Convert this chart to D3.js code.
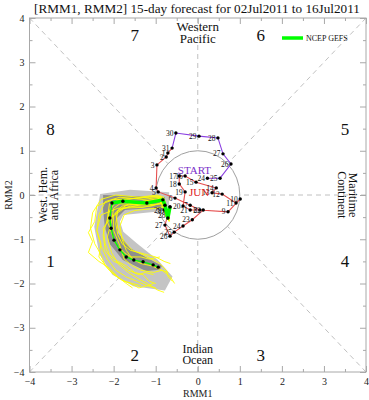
<!DOCTYPE html>
<html><head><meta charset="utf-8">
<script src="https://cdn.jsdelivr.net/npm/d3@7"></script>
<style>body{margin:0;background:#fff}svg{display:block;font-family:"Liberation Serif","Times New Roman",serif}</style>
</head><body><svg id="c" width="369" height="400"></svg>
<script>
// ---------------- DATA ----------------
const title = "[RMM1, RMM2] 15-day forecast for 02Jul2011 to 16Jul2011";
const majorTicks = [-4,-3,-2,-1,0,1,2,3,4];
const minorTicks = [-3.5,-2.5,-1.5,-0.5,0.5,1.5,2.5,3.5];
const phaseNames = ["1","2","3","4","5","6","7","8"];

// observed: late May (purple) and June (red), then 1 Jul
const mayDays = [24,25,26,27,28,29,30,31];
const mayRMM1 = [0.23,0.53,0.79,0.60,0.48,0.03,-0.52,-0.61];
const mayRMM2 = [0.38,0.38,0.70,0.93,1.29,1.33,1.40,1.06];
const junDays = [1,2,3,4,5,6,7,8,9,10,11,12,13,14,15,16,17,18,19,20,21,22,23,24,25,26,27,28,29,30];
const junRMM1 = [-0.71,-0.75,-0.97,-0.99,-0.94,-0.54,-0.18,0.05,0.72,1.01,0.91,0.58,0.34,0.44,-0.04,-0.30,-0.44,-0.44,-0.30,-0.35,-0.18,0.13,-0.13,-0.35,-0.56,-0.66,-0.78,-0.71,-0.80,-0.74];
const junRMM2 = [0.95,0.86,0.68,0.16,0.07,-0.07,-0.23,-0.34,-0.38,-0.09,-0.18,0.02,0.05,0.16,0.29,0.43,0.43,0.25,0.07,-0.25,-0.34,-0.34,-0.56,-0.70,-0.84,-0.93,-0.68,-0.45,-0.34,-0.38];
const julDays = [1];
const julRMM1 = [-0.66];
const julRMM2 = [-0.27];

// NCEP GEFS ensemble mean forecast (day 0 = 1 Jul)
const meanRMM1 = [-0.66,-0.71,-0.78,-0.83,-1.21,-1.78,-2.04,-2.09,-2.06,-1.99,-1.85,-1.70,-1.52,-1.30,-1.06,-0.94];
const meanRMM2 = [-0.27,-0.52,-0.23,-0.11,-0.18,-0.14,-0.18,-0.52,-0.75,-1.02,-1.24,-1.40,-1.47,-1.51,-1.58,-1.63];

// ensemble members [RMM1, RMM2] per day
const members = [
 [[-0.66,-0.27],[-0.72,-0.45],[-0.80,-0.20],[-0.90,-0.05],[-1.30,-0.10],[-1.85,-0.05],[-2.20,-0.15],[-2.35,-0.45],[-2.40,-0.80],[-2.30,-1.15],[-2.15,-1.45],[-1.95,-1.70],[-1.70,-1.85],[-1.45,-1.95],[-1.20,-2.05],[-1.00,-2.10]],
 [[-0.66,-0.27],[-0.70,-0.55],[-0.75,-0.30],[-0.80,-0.15],[-1.10,-0.25],[-1.60,-0.25],[-1.90,-0.35],[-1.95,-0.65],[-1.90,-0.90],[-1.80,-1.10],[-1.60,-1.25],[-1.40,-1.30],[-1.20,-1.35],[-1.00,-1.40],[-0.80,-1.50],[-0.65,-1.55]],
 [[-0.66,-0.27],[-0.75,-0.50],[-0.85,-0.15],[-0.95,0.00],[-1.40,-0.05],[-1.95,0.00],[-2.30,-0.10],[-2.50,-0.40],[-2.55,-0.75],[-2.45,-1.10],[-2.30,-1.35],[-2.20,-1.60],[-2.00,-1.80],[-1.75,-1.95],[-1.55,-2.00],[-1.35,-2.05]],
 [[-0.66,-0.27],[-0.68,-0.60],[-0.72,-0.40],[-0.78,-0.25],[-1.00,-0.30],[-1.50,-0.35],[-1.75,-0.45],[-1.85,-0.70],[-1.80,-1.00],[-1.70,-1.25],[-1.55,-1.45],[-1.35,-1.55],[-1.10,-1.60],[-0.85,-1.70],[-0.65,-1.85],[-0.55,-2.00]],
 [[-0.66,-0.27],[-0.74,-0.48],[-0.82,-0.18],[-0.88,-0.02],[-1.25,-0.05],[-1.70,-0.10],[-2.10,-0.20],[-2.15,-0.55],[-2.25,-0.90],[-2.20,-1.25],[-2.00,-1.50],[-1.85,-1.55],[-1.65,-1.70],[-1.40,-1.80],[-1.25,-1.75],[-1.05,-1.80]],
 [[-0.66,-0.27],[-0.70,-0.50],[-0.76,-0.28],[-0.85,-0.20],[-1.20,-0.22],[-1.85,-0.20],[-2.00,-0.30],[-2.05,-0.60],[-2.15,-0.95],[-2.05,-1.30],[-1.90,-1.55],[-1.65,-1.75],[-1.40,-1.90],[-1.20,-2.00],[-0.95,-2.15],[-0.80,-2.20]],
 [[-0.66,-0.27],[-0.69,-0.58],[-0.73,-0.35],[-0.80,-0.12],[-1.15,-0.12],[-1.65,-0.20],[-1.95,-0.40],[-1.90,-0.75],[-1.75,-1.05],[-1.55,-1.25],[-1.30,-1.35],[-1.10,-1.45],[-0.90,-1.55],[-0.75,-1.70],[-0.70,-1.85],[-0.60,-1.95]],
 [[-0.66,-0.27],[-0.76,-0.46],[-0.86,-0.22],[-0.92,-0.08],[-1.35,-0.15],[-2.00,-0.10],[-2.40,-0.25],[-2.45,-0.60],[-2.60,-0.85],[-2.50,-1.05],[-2.60,-1.30],[-2.35,-1.50],[-2.10,-1.65],[-1.90,-1.85],[-1.70,-2.00],[-1.55,-2.10]],
 [[-0.66,-0.27],[-0.71,-0.53],[-0.79,-0.26],[-0.84,-0.08],[-1.25,-0.20],[-1.75,-0.30],[-2.05,-0.50],[-2.25,-0.75],[-2.20,-1.10],[-2.10,-1.35],[-1.90,-1.50],[-1.70,-1.60],[-1.50,-1.75],[-1.30,-1.80],[-1.15,-1.95],[-1.00,-2.00]],
 [[-0.66,-0.27],[-0.73,-0.47],[-0.77,-0.16],[-0.82,-0.04],[-1.15,-0.05],[-1.55,-0.08],[-1.90,-0.10],[-2.10,-0.35],[-2.15,-0.60],[-2.05,-0.85],[-1.95,-1.10],[-1.75,-1.30],[-1.60,-1.40],[-1.35,-1.40],[-1.15,-1.45],[-0.90,-1.40]],
 [[-0.66,-0.27],[-0.70,-0.56],[-0.74,-0.33],[-0.81,-0.18],[-1.30,-0.28],[-1.90,-0.30],[-2.30,-0.45],[-2.40,-0.80],[-2.30,-1.10],[-2.35,-1.40],[-2.10,-1.70],[-1.85,-1.90],[-1.60,-2.00],[-1.40,-2.10],[-1.20,-2.05],[-1.05,-2.00]],
 [[-0.66,-0.27],[-0.72,-0.51],[-0.79,-0.21],[-0.87,-0.06],[-1.10,-0.15],[-1.45,-0.20],[-1.80,-0.25],[-2.00,-0.45],[-2.00,-0.80],[-1.85,-1.15],[-1.75,-1.45],[-1.55,-1.60],[-1.35,-1.70],[-1.05,-1.75],[-0.85,-1.70],[-0.70,-1.75]]
];

// ensemble spread envelopes [RMM1, RMM2]
const spreadOuter = [[-2.32,0.02],[-2.46,-0.72],[-2.34,-1.34],[-2.03,-1.80],[-1.53,-2.06],[-0.78,-2.16],[-0.60,-1.84],[-0.95,-1.47],[-1.45,-1.09],[-1.77,-0.83],[-1.85,-0.60],[-1.77,-0.45],[-0.82,-0.36],[-0.68,-0.32],[-0.68,0.06],[-1.61,0.12]];
const spreadInner = [[-2.25,0.00],[-0.78,-0.05],[-0.78,-0.27],[-1.73,-0.34],[-1.92,-0.52],[-1.90,-0.86],[-1.61,-1.20],[-1.21,-1.42],[-0.85,-1.60],[-0.90,-1.69],[-1.23,-1.72],[-1.78,-1.47],[-2.09,-1.11],[-2.21,-0.72],[-2.25,-0.34]];

// ---------------- DRAW ----------------
const svg = d3.select("#c");
const x = d3.scaleLinear().domain([-4,4]).range([29.5,366]);
const y = d3.scaleLinear().domain([-4,4]).range([372,18]);
const gridCol = "#a8a8a8";

svg.append("text").attr("x",197).attr("y",13).attr("text-anchor","middle")
  .attr("font-size",13.2).attr("fill","#111").text(title);

// dashed phase lines
const dashG = svg.append("g").attr("stroke","#b0b0b0").attr("stroke-width",0.8).attr("stroke-dasharray","5,4").attr("fill","none");
const r45 = Math.SQRT1_2;
[[-4,-4,-r45,-r45],[4,4,r45,r45],[-4,4,-r45,r45],[4,-4,r45,-r45],
 [0,4,0,1],[0,-4,0,-1],[-4,0,-1,0],[4,0,1,0]].forEach(s=>{
  dashG.append("line").attr("x1",x(s[0])).attr("y1",y(s[1])).attr("x2",x(s[2])).attr("y2",y(s[3]));
});
svg.append("ellipse").attr("cx",x(0)).attr("cy",y(0)).attr("rx",x(1)-x(0)).attr("ry",y(0)-y(1))
  .attr("fill","none").attr("stroke","#a0a0a0").attr("stroke-width",1);

// phase numbers and region names
const phasePos = [[-3.5,-1.5],[-1.5,-3.62],[1.5,-3.62],[3.5,-1.5],[3.5,1.5],[1.5,3.62],[-1.5,3.62],[-3.5,1.5]];
phaseNames.forEach((p,i)=>{
  svg.append("text").attr("x",x(phasePos[i][0])).attr("y",y(phasePos[i][1])).attr("dy","0.36em")
    .attr("text-anchor","middle").attr("font-size",17).attr("fill","#111").text(p);
});
function twoLine(tx,ty,rot,l1,l2,fs){
  const t = svg.append("text").attr("transform",`translate(${tx},${ty}) rotate(${rot})`)
    .attr("text-anchor","middle").attr("font-size",fs).attr("fill","#111");
  t.append("tspan").attr("x",0).attr("y",0).text(l1);
  t.append("tspan").attr("x",0).attr("y",fs*0.95).text(l2);
}
twoLine(x(0),31,0,"Western","Pacific",13);
twoLine(x(0),353,0,"Indian","Ocean",12);
twoLine(46.5,y(0),-90,"West. Hem.","and Africa",12);
twoLine(349,y(0),90,"Maritime","Continent",12);

// frame + ticks
svg.append("rect").attr("x",x(-4)).attr("y",y(4)).attr("width",x(4)-x(-4)).attr("height",y(-4)-y(4))
  .attr("fill","none").attr("stroke",gridCol).attr("stroke-width",1);
function styleAxis(g){ g.select(".domain").remove(); g.selectAll("line").attr("stroke",gridCol);
  g.selectAll("text").attr("fill","#222").attr("font-family","Liberation Serif, Times New Roman, serif").attr("font-size",10); }
svg.append("g").attr("transform",`translate(0,${y(-4)})`)
  .call(d3.axisBottom(x).tickValues(majorTicks).tickSize(-6).tickPadding(6).tickFormat(d3.format("d"))).call(styleAxis);
svg.append("g").attr("transform",`translate(0,${y(-4)})`)
  .call(d3.axisBottom(x).tickValues(minorTicks).tickSize(-3).tickFormat("")).call(styleAxis);
svg.append("g").attr("transform",`translate(0,${y(4)})`)
  .call(d3.axisTop(x).tickValues(majorTicks).tickSize(-6).tickFormat("")).call(styleAxis);
svg.append("g").attr("transform",`translate(0,${y(4)})`)
  .call(d3.axisTop(x).tickValues(minorTicks).tickSize(-3).tickFormat("")).call(styleAxis);
svg.append("g").attr("transform",`translate(${x(-4)},0)`)
  .call(d3.axisLeft(y).tickValues(majorTicks).tickSize(-6).tickPadding(5).tickFormat(d3.format("d"))).call(styleAxis);
svg.append("g").attr("transform",`translate(${x(-4)},0)`)
  .call(d3.axisLeft(y).tickValues(minorTicks).tickSize(-3).tickFormat("")).call(styleAxis);
svg.append("g").attr("transform",`translate(${x(4)},0)`)
  .call(d3.axisRight(y).tickValues(majorTicks).tickSize(-6).tickFormat("")).call(styleAxis);
svg.append("g").attr("transform",`translate(${x(4)},0)`)
  .call(d3.axisRight(y).tickValues(minorTicks).tickSize(-3).tickFormat("")).call(styleAxis);

svg.append("text").attr("x",x(0)).attr("y",397).attr("text-anchor","middle").attr("font-size",10).attr("fill","#222").text("RMM1");
svg.append("text").attr("transform",`translate(12,${y(0)}) rotate(-90)`).attr("text-anchor","middle").attr("font-size",10).attr("fill","#222").text("RMM2");

// legend
svg.append("line").attr("x1",282).attr("x2",303).attr("y1",38).attr("y2",38).attr("stroke","#00ff00").attr("stroke-width",3.5);
svg.append("text").attr("x",306).attr("y",40.5).attr("font-size",8).attr("fill","#111").text("NCEP GEFS");

// spread envelopes
const poly = d3.line().x(d=>x(d[0])).y(d=>y(d[1])).curve(d3.curveLinearClosed);
svg.append("path").attr("d",poly(spreadOuter)).attr("fill","#c4c4c4").attr("stroke","none");
svg.append("path").attr("d",poly(spreadInner)).attr("fill","#8e8e8e").attr("stroke","none");

// members
const ln = d3.line().x(d=>x(d[0])).y(d=>y(d[1]));
members.forEach(m=>{
  svg.append("path").attr("d",ln(m)).attr("fill","none").attr("stroke","#ffff00").attr("stroke-width",0.9);
});

// observed
const mayPts = mayDays.map((d,i)=>({d, a:mayRMM1[i], b:mayRMM2[i]}));
const junPts = junDays.map((d,i)=>({d, a:junRMM1[i], b:junRMM2[i]}));
const julPts = julDays.map((d,i)=>({d, a:julRMM1[i], b:julRMM2[i]}));
const pl = d3.line().x(p=>x(p.a)).y(p=>y(p.b));
svg.append("path").attr("d",pl(mayPts)).attr("fill","none").attr("stroke","#8a3ee0").attr("stroke-width",1.1);
svg.append("path").attr("d",pl([mayPts[mayPts.length-1]].concat(junPts,julPts))).attr("fill","none").attr("stroke","#e65050").attr("stroke-width",1.1);
const allObs = mayPts.concat(junPts,julPts);
svg.selectAll(".od").data(allObs).join("circle").attr("cx",p=>x(p.a)).attr("cy",p=>y(p.b)).attr("r",1.7).attr("fill","#000");
svg.selectAll(".ol").data(allObs).join("text").attr("x",p=>x(p.a)-2.5).attr("y",p=>y(p.b)).attr("dy","0.35em")
  .attr("text-anchor","end").attr("font-size",7.5).attr("fill","#111").text(p=>p.d);
svg.append("text").attr("x",x(mayRMM1[0])-13).attr("y",y(mayRMM2[0])-4).attr("text-anchor","middle")
  .attr("font-size",11).attr("fill","#7a2fc8").text("START");
svg.append("text").attr("x",x(0.03)).attr("y",y(-0.02)).attr("text-anchor","middle")
  .attr("font-size",11).attr("fill","#e02020").text("JUN");

// ensemble mean
const meanPts = meanRMM1.map((a,i)=>[a, meanRMM2[i]]);
svg.append("path").attr("d",ln(meanPts.slice(0,7))).attr("fill","none").attr("stroke","#00ff00").attr("stroke-width",3.5).attr("stroke-linejoin","round");
svg.append("path").attr("d",ln(meanPts.slice(6))).attr("fill","none").attr("stroke","#00ff00").attr("stroke-width",1.3);
svg.selectAll(".md").data(meanPts).join("circle").attr("cx",d=>x(d[0])).attr("cy",d=>y(d[1])).attr("r",1.7).attr("fill","#000");
</script></body></html>
